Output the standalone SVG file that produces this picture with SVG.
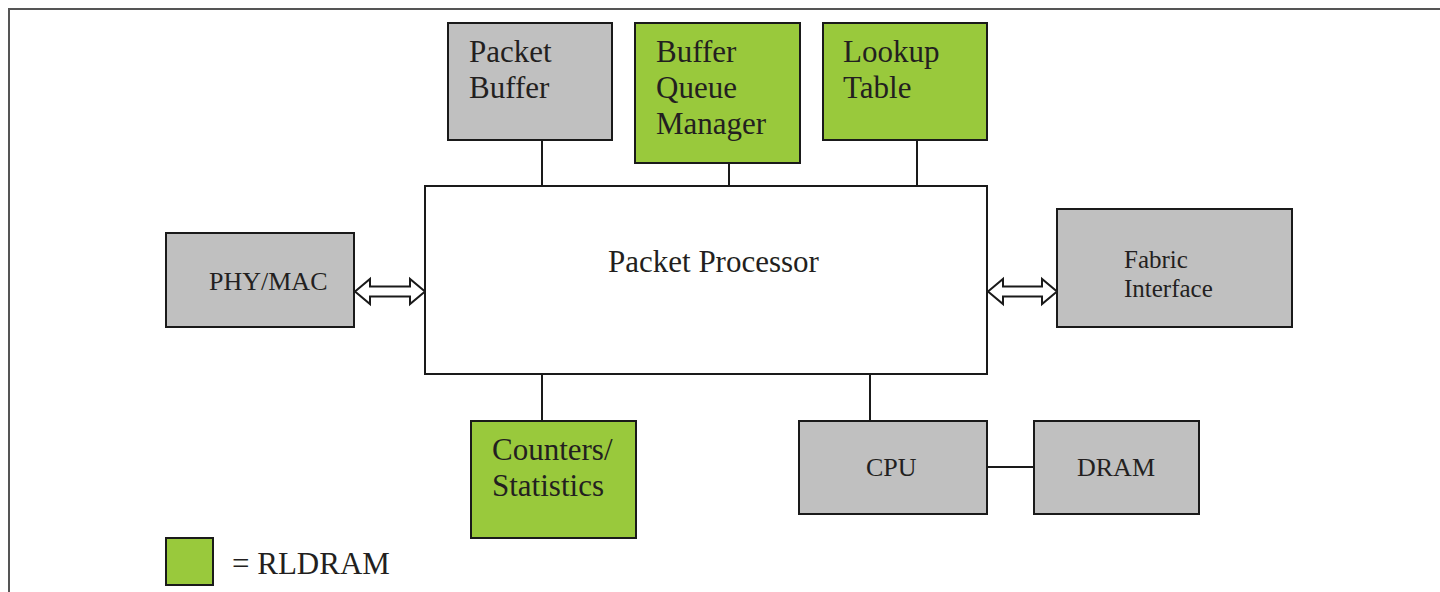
<svg xmlns="http://www.w3.org/2000/svg" width="1440" height="592" viewBox="0 0 1440 592">
<style>
.box{stroke:#1a1a1a;stroke-width:2}
.gray{fill:#c0c0c0}
.green{fill:#99c93c}
.white{fill:#ffffff}
.lbl{font-family:"Liberation Serif","Times New Roman",serif;fill:#231f20}
.big{font-size:31px}
.sm{font-size:26px}
.fi{font-size:25px}
.conn{stroke:#1a1a1a;stroke-width:2;fill:none}
.dbl{fill:#ffffff;stroke:#1a1a1a;stroke-width:2;stroke-linejoin:miter}
</style>
<rect width="1440" height="592" fill="#ffffff"/>
<rect x="9" y="9" width="1450" height="600" fill="none" stroke="#555555" stroke-width="2"/>

<g id="connectors">
<line class="conn" x1="542" y1="140" x2="542" y2="186"/>
<line class="conn" x1="729" y1="163" x2="729" y2="186"/>
<line class="conn" x1="917" y1="140" x2="917" y2="186"/>
<line class="conn" x1="542" y1="374" x2="542" y2="421"/>
<line class="conn" x1="870" y1="374" x2="870" y2="421"/>
<line class="conn" x1="987" y1="467" x2="1034" y2="467"/>
<path class="dbl" d="M355,291.5 L370,279 L370,286.5 L410,286.5 L410,279 L425,291.5 L410,304 L410,296.5 L370,296.5 L370,304 Z"/>
<path class="dbl" d="M988,291.5 L1003,279 L1003,286.5 L1042,286.5 L1042,279 L1057,291.5 L1042,304 L1042,296.5 L1003,296.5 L1003,304 Z"/>
</g>

<g id="packet-buffer">
<rect class="box gray" x="448" y="23" width="164" height="117"/>
<text class="lbl big" x="469" y="62">Packet</text>
<text class="lbl big" x="469" y="98">Buffer</text>
</g>

<g id="buffer-queue-manager">
<rect class="box green" x="635" y="23" width="165" height="140"/>
<text class="lbl big" x="656" y="62">Buffer</text>
<text class="lbl big" x="656" y="98">Queue</text>
<text class="lbl big" x="656" y="134">Manager</text>
</g>

<g id="lookup-table">
<rect class="box green" x="823" y="23" width="164" height="117"/>
<text class="lbl big" x="843" y="62">Lookup</text>
<text class="lbl big" x="843" y="98">Table</text>
</g>

<g id="packet-processor">
<rect class="box white" x="425" y="186" width="562" height="188"/>
<text class="lbl big" x="608" y="272">Packet Processor</text>
</g>

<g id="phy-mac">
<rect class="box gray" x="166" y="233" width="188" height="94"/>
<text class="lbl sm" x="209" y="290">PHY/MAC</text>
</g>

<g id="fabric-interface">
<rect class="box gray" x="1057" y="209" width="235" height="118"/>
<text class="lbl fi" x="1124" y="268">Fabric</text>
<text class="lbl fi" x="1124" y="297">Interface</text>
</g>

<g id="counters-statistics">
<rect class="box green" x="471" y="421" width="165" height="117"/>
<text class="lbl big" x="492" y="460">Counters/</text>
<text class="lbl big" x="492" y="496">Statistics</text>
</g>

<g id="cpu">
<rect class="box gray" x="799" y="421" width="188" height="93"/>
<text class="lbl sm" x="866" y="476">CPU</text>
</g>

<g id="dram">
<rect class="box gray" x="1034" y="421" width="165" height="93"/>
<text class="lbl sm" x="1077" y="476">DRAM</text>
</g>

<g id="legend">
<rect class="box green" x="166" y="538" width="47" height="47"/>
<text class="lbl big" x="232" y="574">= RLDRAM</text>
</g>
</svg>
